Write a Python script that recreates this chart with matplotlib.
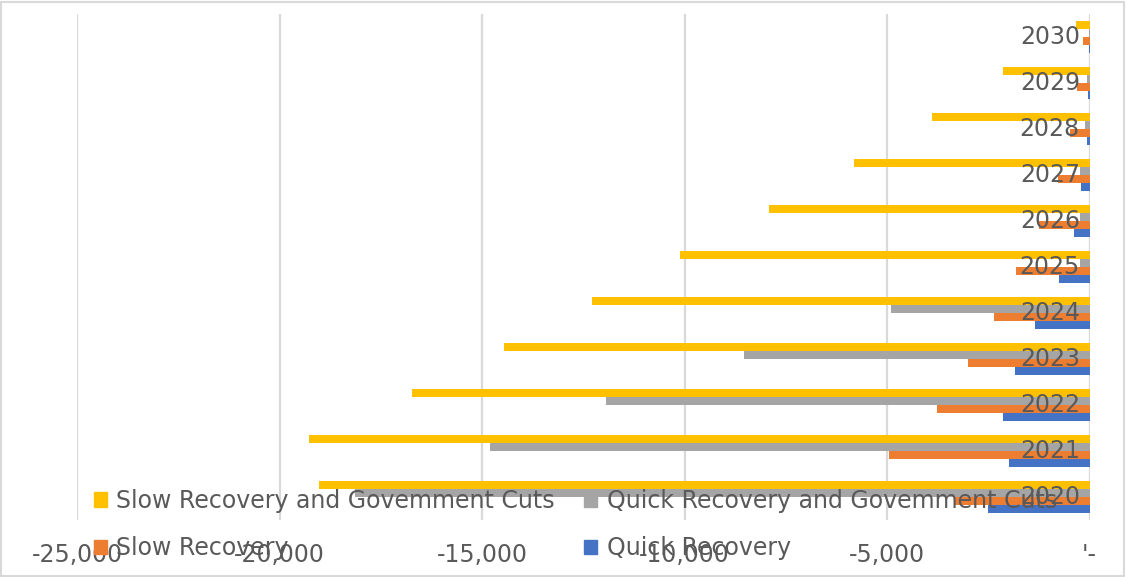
import matplotlib.pyplot as plt
from matplotlib.patches import Patch, Rectangle
import numpy as np

years = [2020, 2021, 2022, 2023, 2024, 2025, 2026, 2027, 2028, 2029, 2030]
quick = [-2494, -1990, -2126, -1830, -1358, -741, -393, -198, -72, -30, -15]
slow = [-3333, -4950, -3775, -3007, -2365, -1805, -1250, -778, -490, -313, -170]
quick_cuts = [-18133, -14795, -11940, -8523, -4891, -230, -230, -230, -116, -50, -10]
slow_cuts = [-19024, -19280, -16727, -14456, -12279, -10110, -7906, -5827, -3900, -2125, -341]

series_names = ["Quick Recovery", "Slow Recovery",
                "Quick Recovery and Govemment Cuts", "Slow Recovery and Govemment Cuts"]
series_colors = ["#4472C4", "#ED7D31", "#A5A5A5", "#FFC000"]

x_ticks = [-25000, -20000, -15000, -10000, -5000, 0]
x_labels = ["-25,000", "-20,000", "-15,000", "-10,000", "-5,000", "'-"]

TXT = "#595959"
FS = 17

fig = plt.figure(figsize=(11.26, 5.77), dpi=100)
ax = fig.add_axes([77 / 1126, 1 - 520 / 577, (1089.5 - 77) / 1126, (520 - 14) / 577])

y = np.arange(len(years))
h = 0.174
data = [quick, slow, quick_cuts, slow_cuts]
for i, (vals, col) in enumerate(zip(data, series_colors)):
    ax.barh(y + (i - 1.5) * h, vals, height=h, color=col, zorder=2)

ax.set_xlim(-25000, 0)
ax.set_ylim(-0.5, len(years) - 0.5)
ax.set_xticks(x_ticks, labels=x_labels)
ax.set_yticks([])
ax.tick_params(axis="x", length=0, pad=16.5, labelsize=FS, labelcolor=TXT)
ax.grid(axis="x", color="#D9D9D9", lw=1.6)
ax.set_axisbelow(True)
for s in ax.spines.values():
    s.set_visible(False)

# year labels sit inside, next to the zero line
for yi, yr in zip(y, years):
    ax.annotate(str(yr), xy=(0, yi), xytext=(-7, 0), textcoords="offset points",
                ha="right", va="center", fontsize=FS, color=TXT, zorder=5)

handles = [Patch(color=c, label=n) for c, n in zip(series_colors, series_names)]
order = [3, 1, 2, 0]
fig.legend([handles[k] for k in order], [series_names[k] for k in order],
           ncol=2, loc="center left", bbox_to_anchor=(94 / 1126, 1 - 524.5 / 577),
           frameon=False, fontsize=FS, labelcolor=TXT, borderpad=0, borderaxespad=0,
           handlelength=0.55, handleheight=0.55, handletextpad=0.4,
           columnspacing=1.23, labelspacing=0.98)

fig.patches.append(Rectangle((0.001, 0.002), 0.997, 0.995, transform=fig.transFigure,
                             fill=False, edgecolor="#D9D9D9", lw=1.5))

fig.savefig("out.png", dpi=100)
